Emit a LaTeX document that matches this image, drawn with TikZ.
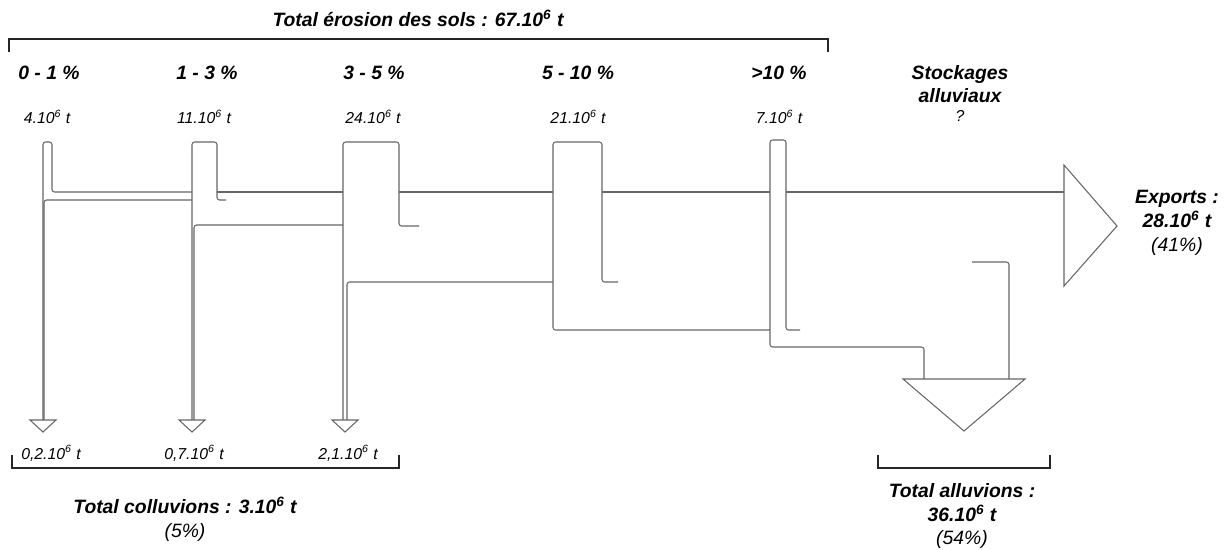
\documentclass[tikz,border=0pt]{standalone}
\usepackage{fontspec}
\setmainfont{Liberation Sans}
\usepackage{tikz}
\usetikzlibrary{arrows.meta}

\begin{document}
\begin{tikzpicture}[
  x=0.02cm, y=-0.02cm,
  head/.style={font=\fontsize{11}{13.5}\selectfont\bfseries\itshape, align=center, inner sep=0pt},
  qty/.style={font=\fontsize{9}{11}\selectfont\itshape, inner sep=0pt},
  note/.style={font=\fontsize{11}{13.5}\selectfont\itshape, align=center, inner sep=0pt},
  flow/.style={draw=black!60, line width=0.6pt, rounded corners=1.5pt},
  tip/.style={draw=black!60, line width=0.6pt},
  brace/.style={draw=black!85, line width=1.1pt},
]
\useasboundingbox (0,0) rectangle (1226,549);

%% Titles
\node[head] (terosion) at (418,18) {Total érosion des sols : 67.10\textsuperscript{6} t};
\node[head] (h1) at (49,73)  {0 - 1 \%};
\node[head] (h2) at (207,73) {1 - 3 \%};
\node[head] (h3) at (374,73) {3 - 5 \%};
\node[head] (h4) at (578,73) {5 - 10 \%};
\node[head] (h5) at (779,73) {>10 \%};
\node[head] (hstock) at (960,84) {Stockages\\alluviaux};

%% Quantities per slope class
\node[qty] (v1) at (47,117)  {4.10\textsuperscript{6} t};
\node[qty] (v2) at (204,117) {11.10\textsuperscript{6} t};
\node[qty] (v3) at (373,117) {24.10\textsuperscript{6} t};
\node[qty] (v4) at (578,117) {21.10\textsuperscript{6} t};
\node[qty] (v5) at (779,117) {7.10\textsuperscript{6} t};
\node[qty] (vstock) at (960,116) {?};

%% Colluvions
\node[qty] (c1) at (51,453)  {0,2.10\textsuperscript{6} t};
\node[qty] (c2) at (194,453) {0,7.10\textsuperscript{6} t};
\node[qty] (c3) at (348,453) {2,1.10\textsuperscript{6} t};

%% Totals
\node[note] (tcoll) at (185,519) {\textbf{Total colluvions : 3.10\textsuperscript{6} t}\\(5\%)};
\node[note] (talluv) at (962,516) {\textbf{Total alluvions :}\\\textbf{36.10\textsuperscript{6} t}\\(54\%)};
\node[note] (texport) at (1177,223) {\textbf{Exports :}\\\textbf{28.10\textsuperscript{6} t}\\(41\%)};

%% Brackets
\draw[brace] (9,52) -- (9,39) -- (828,39) -- (828,52);
\draw[brace] (12,455) -- (12,468) -- (399,468) -- (399,455);
\draw[brace] (878,455) -- (878,468) -- (1050,468) -- (1050,455);

%% Slope columns
\draw[flow] (43,420) -- (43,142) -- (52,142) -- (52,192) -- (192,192);
\draw[flow] (44,420) -- (44,200) -- (192,200);
\draw[flow] (192,420) -- (192,142) -- (217,142) -- (217,200) -- (226,200);
\draw[flow] (194,420) -- (194,225) -- (343,225);
\draw[flow] (343,420) -- (343,142) -- (399,142) -- (399,226) -- (419,226);
\draw[flow] (347,420) -- (347,282) -- (553,282);
\draw[flow] (770,330) -- (553,330) -- (553,142) -- (602,142) -- (602,282) -- (618,282);
\draw[flow] (924,379) -- (924,347) -- (770,347) -- (770,140) -- (786,140) -- (786,330) -- (800,330);

%% Main stream top
\foreach \a/\b in {217/343, 399/553, 602/770, 786/1064} {
  \draw[flow] (\a,192) -- (\b,192);
}
\draw[flow] (972,262) -- (1009,262) -- (1009,379);

%% Outlets
\foreach \x in {43,192,345} {
  \draw[tip] (\x-13,420) -- (\x+13,420) -- (\x,432) -- cycle;
}
\draw[tip] (1064,165) -- (1117,226) -- (1064,286) -- cycle;
\draw[tip] (903,379) -- (1025,379) -- (964,431) -- cycle;
\end{tikzpicture}
\end{document}
